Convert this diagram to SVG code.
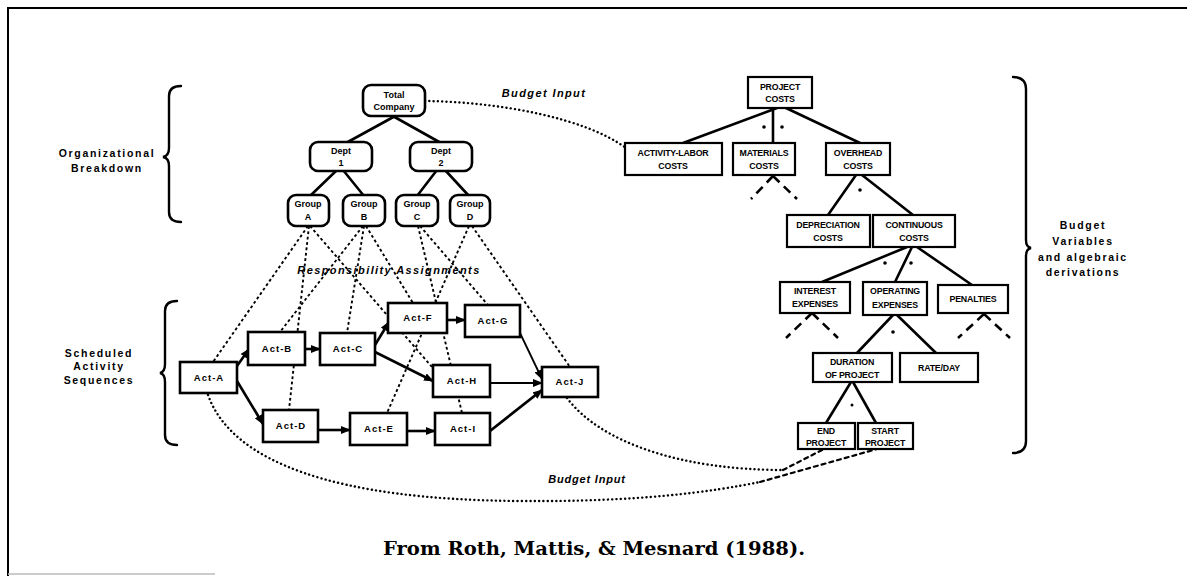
<svg xmlns="http://www.w3.org/2000/svg" width="1187" height="576" viewBox="0 0 1187 576">
  <style>
    .frame { stroke: #000; stroke-width: 2; fill: none; }
    .brace { stroke: #000; stroke-width: 2.4; fill: none; stroke-linecap: round; }
    .org { fill: #fff; stroke: #000; stroke-width: 2.6; }
    .act { fill: #fff; stroke: #000; stroke-width: 2.6; }
    .var { fill: #fff; stroke: #000; stroke-width: 2.2; }
    .tree { stroke: #000; stroke-width: 2.6; fill: none; }
    .flow { stroke: #000; stroke-width: 2.6; fill: none; marker-end: url(#arrow); }
    .resp { stroke: #000; stroke-width: 1.9; fill: none; stroke-dasharray: 2.8 2.6; }
    .dots { stroke: #000; stroke-width: 2.4; fill: none; stroke-dasharray: 0.1 4.2; stroke-linecap: round; }
    .dash { stroke: #000; stroke-width: 2.2; fill: none; stroke-dasharray: 4 4; stroke-linecap: round; }
    .stub { stroke: #000; stroke-width: 2.6; fill: none; stroke-dasharray: 9 6; }
    .op { fill: #000; }
    text { font-family: "Liberation Sans", Arial, sans-serif; font-weight: bold; fill: #000; text-anchor: middle; }
    .side { font-size: 10.5px; letter-spacing: 1.7px; }
    .nlab { font-size: 9px; }
    .alab { font-size: 9.5px; letter-spacing: 1px; }
    .vlab { font-size: 8.8px; letter-spacing: -0.2px; }
    .note { font-size: 11px; font-style: italic; letter-spacing: 1.4px; }
    .caption { font-family: "DejaVu Serif", "Liberation Serif", serif; font-weight: bold; font-size: 19px; }
  </style>
  <defs>
    <marker id="arrow" viewBox="0 0 10 8" refX="9" refY="4" markerWidth="10" markerHeight="8" markerUnits="userSpaceOnUse" orient="auto">
      <path d="M0,0 L10,4 L0,8 z" fill="#000"/>
    </marker>
  </defs>

  <rect width="1187" height="576" fill="#fff"/>

  <!-- page frame -->
  <path class="frame" d="M8,576 L8,8 L1187,8"/>
  <line x1="8" y1="574" x2="215" y2="574" stroke="#bbb" stroke-width="1.5"/>

  <!-- braces -->
  <g id="brace-org">
    <path class="brace" d="M181,86 Q169,86 169,96 L169,148 Q169,156 163,157 Q169,158 169,166 L169,212 Q169,222 181,222"/>
    <text class="side" x="107" y="157">Organizational</text>
    <text class="side" x="107" y="172">Breakdown</text>
  </g>
  <g id="brace-sched">
    <path class="brace" d="M177,301 Q165,301 165,311 L165,364 Q165,372 160,373 Q165,374 165,382 L165,435 Q165,445 177,445"/>
    <text class="side" x="99" y="357">Scheduled</text>
    <text class="side" x="99" y="370">Activity</text>
    <text class="side" x="99" y="384">Sequences</text>
  </g>
  <g id="brace-budget">
    <path class="brace" d="M1013,77 Q1026,77 1026,89 L1026,240 Q1026,247 1031,248 Q1026,249 1026,256 L1026,441 Q1026,453 1013,453"/>
    <text class="side" x="1083" y="229">Budget</text>
    <text class="side" x="1083" y="245">Variables</text>
    <text class="side" x="1083" y="261">and  algebraic</text>
    <text class="side" x="1083" y="276">derivations</text>
  </g>

  <!-- connectors -->
  <g id="connectors">
    <!-- organization tree -->
    <path class="tree" d="M397,115 L346,143 M391,115 L441,143"/>
    <path class="tree" d="M337,170 L310,196 M343,170 L364,196"/>
    <path class="tree" d="M437,170 L417,196 M445,170 L469,196"/>

    <!-- responsibility assignments -->
    <path class="resp" d="M308,226 L213,362"/>
    <path class="resp" d="M309,226 L289,410"/>
    <path class="resp" d="M310,226 L432,367"/>
    <path class="resp" d="M363,226 L280,332"/>
    <path class="resp" d="M364,226 L347,333"/>
    <path class="resp" d="M366,226 L413,303"/>
    <path class="resp" d="M418,226 L462,413"/>
    <path class="resp" d="M420,226 L488,305"/>
    <path class="resp" d="M469,226 L387,413"/>
    <path class="resp" d="M472,226 L570,367"/>

    <!-- activity sequences -->
    <path class="flow" d="M237,366 L249,349"/>
    <path class="flow" d="M237,381 L263,424"/>
    <path class="flow" d="M305,349 L320,349"/>
    <path class="flow" d="M375,345 L389,322"/>
    <path class="flow" d="M375,352 L433,381"/>
    <path class="flow" d="M447,320 L465,320"/>
    <path class="flow" d="M520,333 L542,379" style="stroke-width:1.8"/>
    <path class="flow" d="M490,383 L542,383" style="stroke-width:2"/>
    <path class="flow" d="M490,431 L542,390" style="stroke-width:2.8"/>
    <path class="flow" d="M318,430 L350,430"/>
    <path class="flow" d="M407,431 L435,431"/>

    <!-- budget input links -->
    <path class="dots" d="M425,101 C500,102 585,118 626,148"/>
    <path class="dots" d="M208,395 C232,462 335,500 520,501 C640,502 710,492 760,482"/>
    <path class="dash" d="M760,482 L877,449"/>
    <path class="dots" d="M567,398 C600,442 680,470 783,470"/>
    <path class="dash" d="M783,470 L824,449"/>

    <!-- cost tree -->
    <path class="tree" d="M777,108 L683,143 M773,108 L773,143 M786,108 L860,143"/>
    <path class="tree" d="M856,175 L828,215 M862,175 L913,215"/>
    <path class="tree" d="M907,247 L822,282 M912,247 L895,282 M917,247 L972,285"/>
    <path class="tree" d="M893,315 L857,353 M897,315 L936,353"/>
    <path class="tree" d="M851,382 L826,423 M853,382 L876,423"/>
    <path class="stub" d="M773,176 L751,199 M773,176 L797,199"/>
    <path class="stub" d="M812,313 L786,338 M812,313 L838,338"/>
    <path class="stub" d="M984,314 L958,338 M984,314 L1010,338"/>
    <circle class="op" cx="764" cy="127" r="1.8"/>
    <circle class="op" cx="782" cy="127" r="1.8"/>
    <circle class="op" cx="860" cy="190" r="1.8"/>
    <circle class="op" cx="885" cy="263" r="1.8"/>
    <circle class="op" cx="911" cy="263" r="1.8"/>
    <circle class="op" cx="893" cy="332" r="1.8"/>
    <circle class="op" cx="852" cy="405" r="1.5"/>
  </g>

  <!-- connector labels -->
  <text class="note" x="544" y="97">Budget  Input</text>
  <text class="note" x="389" y="274">Responsibility  Assignments</text>
  <text class="note" x="587" y="483" style="letter-spacing:0.8px">Budget  Input</text>

  <!-- organization nodes -->
  <g id="total-company"><rect class="org" x="363" y="85" width="62" height="31" rx="8"/><text class="nlab" x="394" y="98">Total</text><text class="nlab" x="394" y="110">Company</text></g>
  <g id="dept-1"><rect class="org" x="310" y="142" width="62" height="29" rx="8"/><text class="nlab" x="341" y="154">Dept</text><text class="nlab" x="341" y="166">1</text></g>
  <g id="dept-2"><rect class="org" x="410" y="142" width="62" height="29" rx="8"/><text class="nlab" x="441" y="154">Dept</text><text class="nlab" x="441" y="166">2</text></g>
  <g id="group-a"><rect class="org" x="288" y="195" width="41" height="31" rx="8"/><text class="nlab" x="308" y="207">Group</text><text class="nlab" x="308" y="220">A</text></g>
  <g id="group-b"><rect class="org" x="343" y="195" width="42" height="31" rx="8"/><text class="nlab" x="364" y="207">Group</text><text class="nlab" x="364" y="220">B</text></g>
  <g id="group-c"><rect class="org" x="396" y="195" width="42" height="31" rx="8"/><text class="nlab" x="417" y="207">Group</text><text class="nlab" x="417" y="220">C</text></g>
  <g id="group-d"><rect class="org" x="450" y="195" width="40" height="31" rx="8"/><text class="nlab" x="470" y="207">Group</text><text class="nlab" x="470" y="220">D</text></g>

  <!-- activity nodes -->
  <g id="act-a"><rect class="act" x="180" y="362" width="57" height="31"/><text class="alab" x="209" y="381">Act-A</text></g>
  <g id="act-b"><rect class="act" x="248" y="332" width="57" height="33"/><text class="alab" x="277" y="352">Act-B</text></g>
  <g id="act-c"><rect class="act" x="320" y="333" width="55" height="32"/><text class="alab" x="348" y="352">Act-C</text></g>
  <g id="act-d"><rect class="act" x="263" y="410" width="55" height="32"/><text class="alab" x="291" y="429">Act-D</text></g>
  <g id="act-e"><rect class="act" x="350" y="413" width="57" height="32"/><text class="alab" x="379" y="432">Act-E</text></g>
  <g id="act-f"><rect class="act" x="388" y="303" width="59" height="30"/><text class="alab" x="418" y="321">Act-F</text></g>
  <g id="act-g"><rect class="act" x="465" y="305" width="55" height="32"/><text class="alab" x="493" y="324">Act-G</text></g>
  <g id="act-h"><rect class="act" x="433" y="365" width="57" height="32"/><text class="alab" x="462" y="384">Act-H</text></g>
  <g id="act-i"><rect class="act" x="435" y="413" width="55" height="32"/><text class="alab" x="463" y="432">Act-I</text></g>
  <g id="act-j"><rect class="act" x="542" y="367" width="56" height="30"/><text class="alab" x="570" y="385">Act-J</text></g>

  <!-- budget variable nodes -->
  <g id="project-costs"><rect class="var" x="748" y="77" width="64" height="31"/><text class="vlab" x="780" y="90">PROJECT</text><text class="vlab" x="780" y="102">COSTS</text></g>
  <g id="activity-labor-costs"><rect class="var" x="625" y="143" width="97" height="32"/><text class="vlab" x="673" y="156">ACTIVITY-LABOR</text><text class="vlab" x="673" y="169">COSTS</text></g>
  <g id="materials-costs"><rect class="var" x="733" y="143" width="62" height="32"/><text class="vlab" x="764" y="156">MATERIALS</text><text class="vlab" x="764" y="169">COSTS</text></g>
  <g id="overhead-costs"><rect class="var" x="826" y="143" width="64" height="32"/><text class="vlab" x="858" y="156">OVERHEAD</text><text class="vlab" x="858" y="169">COSTS</text></g>
  <g id="depreciation-costs"><rect class="var" x="787" y="215" width="83" height="32"/><text class="vlab" x="828" y="228">DEPRECIATION</text><text class="vlab" x="828" y="241">COSTS</text></g>
  <g id="continuous-costs"><rect class="var" x="873" y="215" width="82" height="32"/><text class="vlab" x="914" y="228">CONTINUOUS</text><text class="vlab" x="914" y="241">COSTS</text></g>
  <g id="interest-expenses"><rect class="var" x="780" y="282" width="70" height="31"/><text class="vlab" x="815" y="294">INTEREST</text><text class="vlab" x="815" y="307">EXPENSES</text></g>
  <g id="operating-expenses"><rect class="var" x="863" y="282" width="64" height="33"/><text class="vlab" x="895" y="294">OPERATING</text><text class="vlab" x="895" y="308">EXPENSES</text></g>
  <g id="penalties"><rect class="var" x="938" y="285" width="70" height="28"/><text class="vlab" x="973" y="302">PENALTIES</text></g>
  <g id="duration-of-project"><rect class="var" x="813" y="353" width="79" height="29"/><text class="vlab" x="852" y="365">DURATION</text><text class="vlab" x="852" y="378">OF PROJECT</text></g>
  <g id="rate-day"><rect class="var" x="900" y="353" width="78" height="29"/><text class="vlab" x="939" y="371">RATE/DAY</text></g>
  <g id="end-project"><rect class="var" x="798" y="423" width="57" height="26"/><text class="vlab" x="826" y="434">END</text><text class="vlab" x="826" y="446">PROJECT</text></g>
  <g id="start-project"><rect class="var" x="858" y="423" width="55" height="26"/><text class="vlab" x="885" y="434">START</text><text class="vlab" x="885" y="446">PROJECT</text></g>

  <!-- caption -->
  <text class="caption" x="594" y="555" textLength="422" lengthAdjust="spacingAndGlyphs">From Roth, Mattis, &amp; Mesnard (1988).</text>
</svg>
